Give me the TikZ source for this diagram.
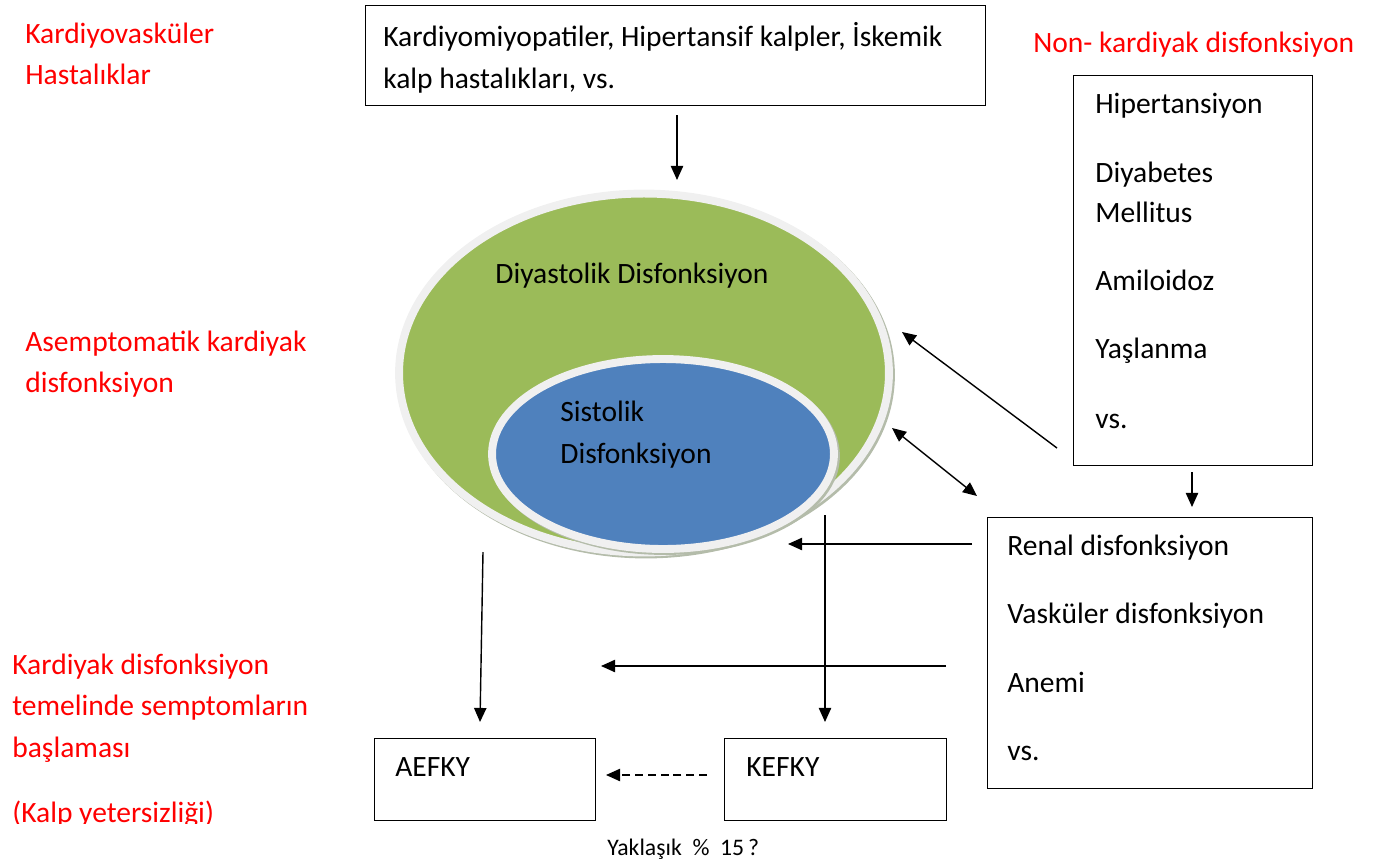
\documentclass[tikz,border=0pt]{standalone}
\usepackage{fontspec}
\setmainfont{Carlito}
\usetikzlibrary{arrows.meta,shapes.geometric}
\definecolor{hfgreen}{RGB}{155,187,89}
\definecolor{hfblue}{RGB}{79,129,189}
\definecolor{hfrim}{RGB}{240,240,240}
\definecolor{hfshade}{RGB}{180,188,170}
\definecolor{hfred}{RGB}{255,0,0}

\begin{document}
\begin{tikzpicture}[x=0.02cm, y=-0.02cm,
  box/.style={draw, line width=0.8pt, anchor=north west, inner sep=0pt},
  txt/.style={anchor=base west, align=left, inner sep=0pt, font=\fontsize{16.8}{22.8}\selectfont},
  note/.style={txt, text=hfred},
  blob/.style={ellipse, draw=hfrim, line width=4.5pt, inner sep=0pt},
  arr/.style={-{Triangle[length=8pt,width=7pt]}, line width=0.8pt}
]
  \useasboundingbox (0,0) rectangle (1374,863);

  %% Red side notes (base = last line)
  \node[note] (cvd) at (25,84) {Kardiyovasküler\\Hastalıklar};
  \node[note] (noncard) at (1033,52) {Non- kardiyak disfonksiyon};
  \node[note] (asym) at (25,392) {Asemptomatik kardiyak\\disfonksiyon};
  \node[note, font=\fontsize{16.8}{23.5}\selectfont] (onset) at (12,757) {Kardiyak disfonksiyon\\temelinde semptomların\\başlaması};
  \begin{scope}
    \clip (0,780) rectangle (340,823);
    \node[note] (hf) at (12,822) {(Kalp yetersizliği)};
  \end{scope}

  %% Top box: cardiovascular causes
  \node[box, minimum width=12.4cm, minimum height=2cm] (cause) at (365,5) {};
  \node[txt, font=\fontsize{16.8}{23.8}\selectfont] (causetxt) at (383,88) {Kardiyomiyopatiler, Hipertansif kalpler, İskemik\\kalp hastalıkları, vs.};

  %% Right box: non-cardiac causes
  \node[box, minimum width=4.78cm, minimum height=7.8cm] (risk) at (1073,75) {};
  \node[txt, font=\fontsize{16.8}{22.7}\selectfont] (risktxt) at (1095,428)
    {Hipertansiyon\\[0.58cm]Diyabetes\\Mellitus\\[0.56cm]Amiloidoz\\[0.56cm]Yaşlanma\\[0.6cm]vs.};

  %% Lower right box: comorbidities
  \node[box, minimum width=6.5cm, minimum height=5.42cm] (comor) at (987,517) {};
  \node[txt, font=\fontsize{16.8}{22.7}\selectfont] (comortxt) at (1007,760)
    {Renal disfonksiyon\\[0.56cm]Vasküler disfonksiyon\\[0.58cm]Anemi\\[0.56cm]vs.};

  %% Heart failure boxes
  \node[box, minimum width=4.42cm, minimum height=1.64cm] (aefky) at (374,738) {};
  \node[txt] (aefkytxt) at (395,776) {AEFKY};
  \node[box, minimum width=4.44cm, minimum height=1.64cm] (kefky) at (724,738) {};
  \node[txt] (kefkytxt) at (746,776) {KEFKY};
  \node[txt, font=\fontsize{13.5}{16}\selectfont] (ratio) at (607,855) {Yaklaşık~ \%~ 15\,?};

  %% Nested dysfunction ellipses
  \node[blob, draw=hfshade, fill=hfshade, minimum width=9.8cm, minimum height=7.18cm] (diashade) at (646,375) {};
  \node[blob, fill=hfgreen, minimum width=9.8cm, minimum height=7.18cm] (dia) at (644,373) {};
  \node[blob, draw=hfshade, fill=hfshade, minimum width=6.84cm, minimum height=3.8cm] (sysshade) at (665,456) {};
  \node[blob, fill=hfblue, minimum width=6.84cm, minimum height=3.8cm] (sys) at (663,454) {};
  \node[txt] (diatxt) at (495,283) {Diyastolik Disfonksiyon};
  \node[txt, font=\fontsize{16.8}{23.8}\selectfont] (systxt) at (560,463) {Sistolik\\Disfonksiyon};

  %% Arrow ends
  \coordinate (c1) at (677,115);  \coordinate (c1e) at (677,180);
  \coordinate (c2) at (1192,472); \coordinate (c2e) at (1192,507);
  \coordinate (c3) at (1057,448); \coordinate (c3e) at (902,332);
  \coordinate (c4) at (892,428);  \coordinate (c4e) at (977,496);
  \coordinate (c5) at (972,544);  \coordinate (c5e) at (788,544);
  \coordinate (c6) at (946,666);  \coordinate (c6e) at (601,666);
  \coordinate (c7) at (825,515);  \coordinate (c7e) at (825,722);
  \coordinate (c8) at (483,552);  \coordinate (c8e) at (480,722);
  \coordinate (c9) at (707,775);  \coordinate (c9e) at (606,775);

  \draw[arr] (c1) -- (c1e);
  \draw[arr] (c2) -- (c2e);
  \draw[arr] (c3) -- (c3e);
  \draw[arr, {Triangle[length=8pt,width=7pt]}-{Triangle[length=8pt,width=7pt]}] (c4) -- (c4e);
  \draw[arr] (c5) -- (c5e);
  \draw[arr] (c6) -- (c6e);
  \draw[arr] (c7) -- (c7e);
  \draw[arr] (c8) -- (c8e);
  \draw[arr, dash pattern=on 4.5pt off 2.8pt] (c9) -- (c9e);
\end{tikzpicture}
\end{document}
